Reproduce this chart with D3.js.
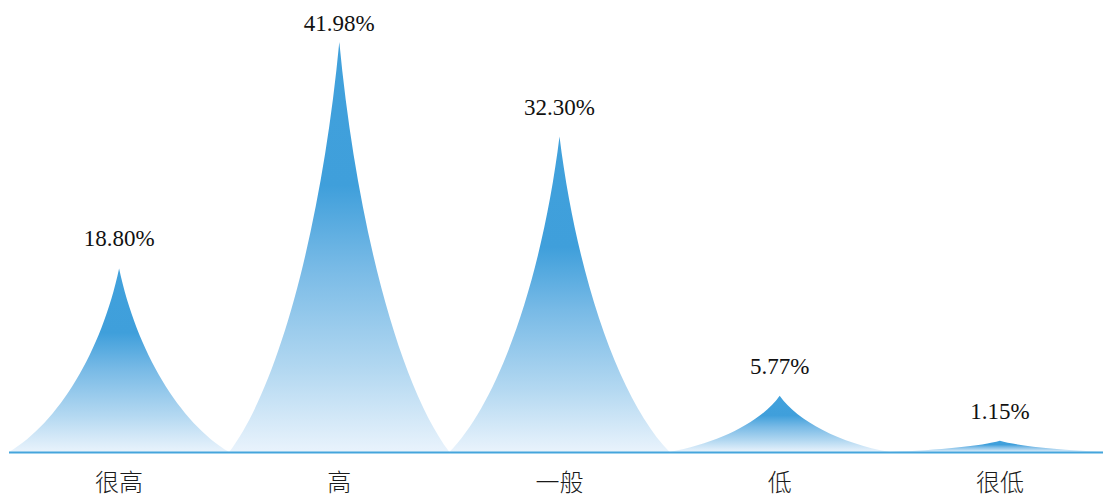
<!DOCTYPE html>
<html>
<head>
<meta charset="utf-8">
<script src="https://cdn.jsdelivr.net/npm/d3@7"></script>
<style>
  body { margin: 0; background: #fff; }
  svg { display: block; }
</style>
</head>
<body>
<svg width="1103" height="497"></svg>
<script>
// Data
var categories = ['很高', '高', '一般', '低', '很低'];
var values = [18.80, 41.98, 32.30, 5.77, 1.15];
var valueLabels = ['18.80%', '41.98%', '32.30%', '5.77%', '1.15%'];

var svg = d3.select('svg');

var margin = { left: 9, right: -7, top: 42, bottom: 45 };
var width = 1103;
var height = 497;
var baseY = height - margin.bottom;

// band scale for the categories
var x = d3.scaleBand()
  .domain(categories)
  .range([margin.left, width - margin.right])
  .padding(0);

// value scale
var y = d3.scaleLinear()
  .domain([0, d3.max(values)])
  .range([baseY, margin.top]);

// gradient, per shape
var defs = svg.append('defs');
var grad = defs.append('linearGradient')
  .attr('id', 'spikeGrad')
  .attr('x1', 0).attr('y1', 0)
  .attr('x2', 0).attr('y2', 1);
grad.append('stop').attr('offset', '0%').attr('stop-color', '#41a1dc');
grad.append('stop').attr('offset', '35%').attr('stop-color', '#3f9fdb');
grad.append('stop').attr('offset', '55%').attr('stop-color', '#78bae6');
grad.append('stop').attr('offset', '80%').attr('stop-color', '#b3d8f1');
grad.append('stop').attr('offset', '100%').attr('stop-color', '#e9f3fc');

// concave spike shape: base left -> peak -> base right
function spike(d, i) {
  var x0 = x(categories[i]);
  var half = x.bandwidth() / 2;
  var cx = x0 + half;
  var x1 = cx + half;
  var top = y(d);
  var h = baseY - top;
  var p = d3.path();
  p.moveTo(x0, baseY);
  p.bezierCurveTo(cx - half * 0.55, baseY - h * 0.16, cx - half * 0.16, baseY - h * 0.55, cx, top);
  p.bezierCurveTo(cx + half * 0.16, baseY - h * 0.55, cx + half * 0.55, baseY - h * 0.16, x1, baseY);
  p.closePath();
  return p.toString();
}

svg.append('g')
  .selectAll('path')
  .data(values)
  .join('path')
  .attr('d', spike)
  .attr('fill', 'url(#spikeGrad)');

// baseline
svg.append('line')
  .attr('x1', margin.left)
  .attr('x2', width)
  .attr('y1', baseY + 0.5)
  .attr('y2', baseY + 0.5)
  .attr('stroke', '#45a5dc')
  .attr('stroke-width', 2);

// x axis labels
svg.append('g')
  .selectAll('text')
  .data(categories)
  .join('text')
  .attr('x', function (d) { return x(d) + x.bandwidth() / 2; })
  .attr('y', baseY + 39)
  .attr('text-anchor', 'middle')
  .attr('font-family', '"Noto Sans CJK SC", sans-serif')
  .attr('font-weight', 300)
  .attr('font-size', 24)
  .attr('fill', '#1a1a1a')
  .text(function (d) { return d; });

// value labels
svg.append('g')
  .selectAll('text')
  .data(values)
  .join('text')
  .attr('x', function (d, i) { return x(categories[i]) + x.bandwidth() / 2; })
  .attr('y', function (d) { return Math.max(y(d) - 22, 31); })
  .attr('text-anchor', 'middle')
  .attr('font-family', '"Liberation Serif", "Times New Roman", serif')
  .attr('font-size', 23)
  .attr('fill', '#111')
  .text(function (d, i) { return valueLabels[i]; });
</script>
</body>
</html>
